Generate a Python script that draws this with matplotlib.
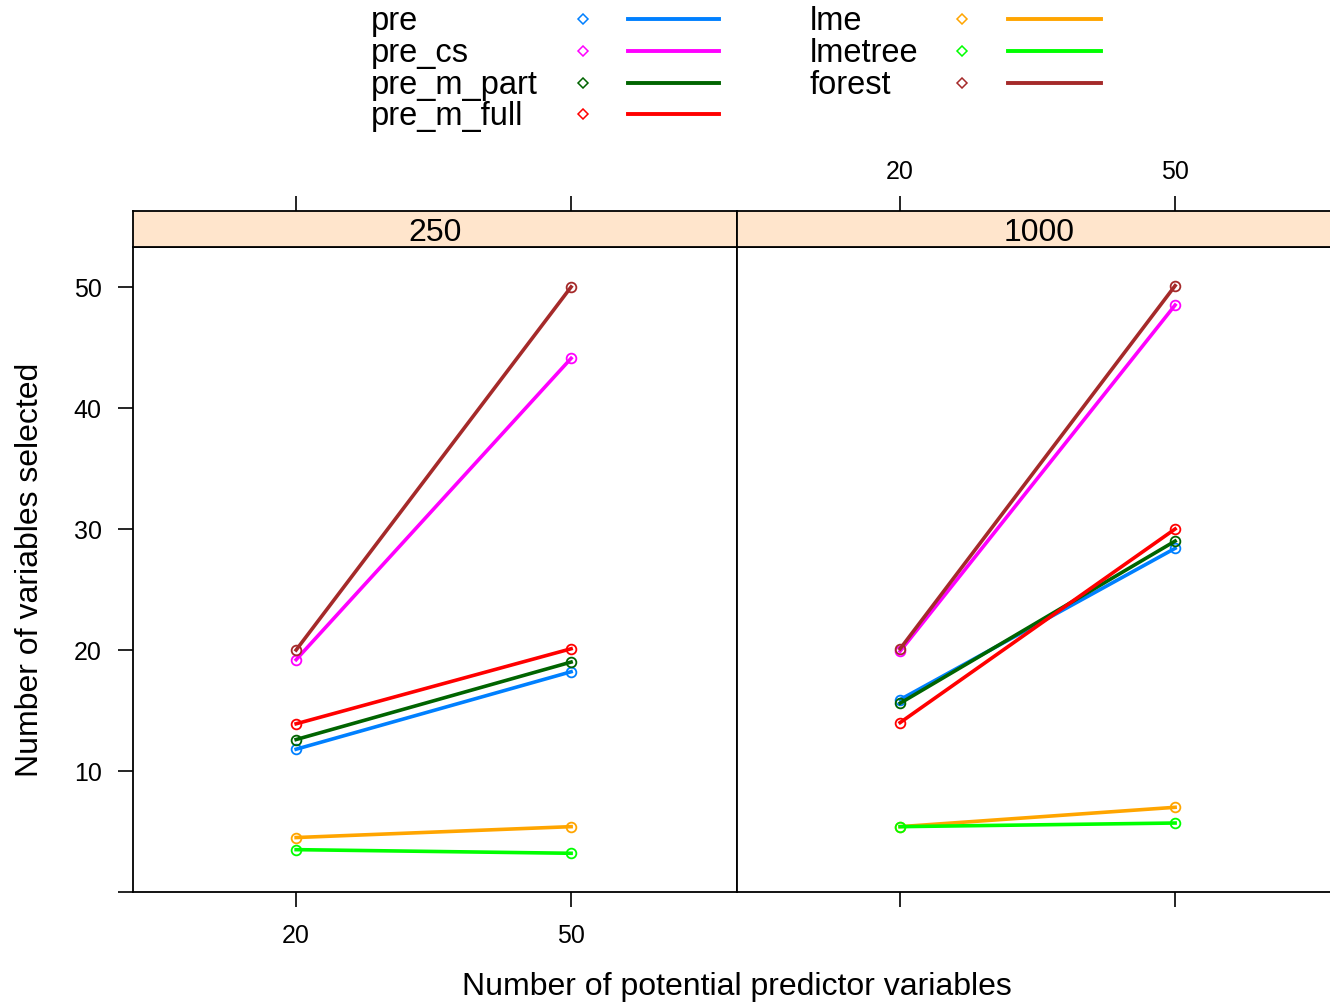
import matplotlib
matplotlib.use("Agg")
import matplotlib.pyplot as plt

plt.rcParams['font.family'] = ['Liberation Sans', 'DejaVu Sans']

# data (values at 20 and 50 predictors)
n_vars = [20, 50]
panels = ['250', '1000']
methods = ['pre', 'pre_cs', 'pre_m_part', 'pre_m_full', 'lme', 'lmetree', 'forest']
colors = ['#0080ff', '#ff00ff', '#006400', '#ff0000', '#ffa500', '#00ff00', '#a52a2a']

# each entry: [panel 250 values, panel 1000 values]
pre = [[11.8, 18.2], [15.9, 28.4]]
pre_cs = [[19.2, 44.1], [19.9, 48.5]]
pre_m_part = [[12.6, 19.0], [15.6, 29.0]]
pre_m_full = [[13.9, 20.1], [14.0, 30.0]]
lme = [[4.5, 5.4], [5.4, 7.0]]
lmetree = [[3.5, 3.2], [5.4, 5.7]]
forest = [[20.0, 50.0], [20.1, 50.1]]
series = [pre, pre_cs, pre_m_part, pre_m_full, lme, lmetree, forest]

W, H = 1330, 1003
fig = plt.figure(figsize=(W / 100, H / 100), dpi=100)


def px_axes(x0, y0, x1, y1):
    # pixel box (top-left origin) -> figure axes
    return fig.add_axes([x0 / W, 1 - y1 / H, (x1 - x0) / W, (y1 - y0) / H])


panel_left = [133, 737]
pw = 604
strip_top, strip_bot, p_bot = 212, 248, 893
xlim = (2.2, 68.1)
ylim = (0.0, 53.3)
tick_len = 10.5
tick_fs = 18

for i, name in enumerate(panels):
    x0 = panel_left[i]
    ax = px_axes(x0, strip_bot, x0 + pw, p_bot)
    for s, c in zip(series, colors):
        ax.plot(n_vars, s[i], color=c, lw=2.6, marker='o', ms=7,
                mfc='none', mec=c, mew=1.3, clip_on=False)
    ax.set_xlim(*xlim)
    ax.set_ylim(*ylim)
    ax.set_xticks(n_vars)
    ax.tick_params(axis='x', direction='out', length=tick_len, width=1.2,
                   labelsize=tick_fs, pad=12, labelbottom=(i == 0))
    if i == 0:
        ax.set_yticks([0, 10, 20, 30, 40, 50])
        ax.set_yticklabels(['', '10', '20', '30', '40', '50'])
        ax.tick_params(axis='y', direction='out', length=tick_len, width=1.2,
                       labelsize=tick_fs, pad=12)
    else:
        ax.set_yticks([])
    for sp in ax.spines.values():
        sp.set_linewidth(1.3)

    st = px_axes(x0, strip_top, x0 + pw, strip_bot)
    st.set_facecolor('#ffe5cc')
    st.set_xlim(*xlim)
    st.set_ylim(0, 1)
    st.set_yticks([])
    st.set_xticks(n_vars)
    st.tick_params(axis='x', direction='out', length=tick_len, width=1.2,
                   labelsize=tick_fs, pad=10, top=True, bottom=False,
                   labeltop=(i == 1), labelbottom=False)
    for sp in st.spines.values():
        sp.set_linewidth(1.3)
    st.text(0.5, 0.42, name, transform=st.transAxes, ha='center',
            va='center', fontsize=23)

fig.text(737 / W, 1 - 987 / H, 'Number of potential predictor variables',
         ha='center', va='center', fontsize=23)
fig.text(30 / W, 1 - 570 / H, 'Number of variables selected',
         ha='center', va='center', rotation=90, fontsize=23)

# legend drawn by hand, lattice style: text, point, line
lg = px_axes(0, 0, W, 150)
lg.set_xlim(0, W)
lg.set_ylim(150, 0)
lg.axis('off')
cols = [(371, 583, 628, 719), (810, 962, 1008, 1101)]
rows = [20, 52, 84, 115]
for k, (m, c) in enumerate(zip(methods, colors)):
    col = cols[0] if k < 4 else cols[1]
    ry = rows[k if k < 4 else k - 4]
    lg.text(col[0], ry + 10, m, ha='left', va='baseline', fontsize=23.5)
    lg.plot([col[1]], [ry], marker='D', ms=5, mfc='none', mec=c, mew=1.1)
    lg.plot([col[2], col[3]], [ry, ry], color=c, lw=2.8)

fig.savefig('out.png', dpi=100)
